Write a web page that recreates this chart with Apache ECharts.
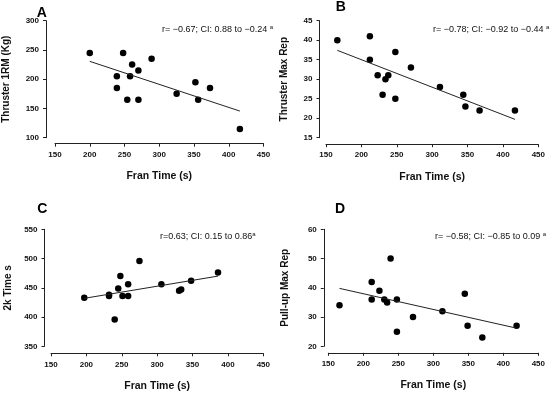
<!DOCTYPE html>
<html><head><meta charset="utf-8">
<script src="https://cdn.jsdelivr.net/npm/echarts@6/dist/echarts.min.js"></script>
<style>html,body{margin:0;padding:0;background:#fff}#c{width:550px;height:394px}</style>
</head><body><div id="c"></div>
<script>
// ---- Data ----
const xTicks = [150, 200, 250, 300, 350, 400, 450];

// Panel A: Fran time vs Thruster 1RM (Kg)
const franA = [200, 248, 261, 270, 289, 239, 258, 239, 254, 270, 325, 352, 356, 373, 416];
const thrusterRM = [245, 245, 225, 215, 235, 205, 205, 185, 165, 165, 175, 195, 165, 185, 115];
const fitAx = [200, 416];
const fitAy = [230.5, 145.5];

// Panel B: Fran time vs Thruster Max Rep
const franB = [166, 212, 212, 223, 230, 234, 238, 248, 248, 270, 311, 344, 347, 367, 417];
const thrusterMaxRep = [40, 41, 35, 31, 26, 30, 31, 37, 25, 33, 28, 26, 23, 22, 22];
const fitBx = [166, 417];
const fitBy = [37.4, 19.7];

// Panel C: Fran time vs 2k Time s
const franC = [197, 232, 232, 245, 248, 240, 251, 259, 259, 275, 306, 331, 334, 348, 386];
const rowTime = [433, 438, 436, 449, 470, 396, 436, 456, 436, 496, 456, 445, 447, 462, 476];
const fitCx = [197, 386];
const fitCy = [432, 470];

// Panel D: Fran time vs Pull-up Max Rep
const franD = [166, 212, 212, 223, 230, 234, 239, 248, 248, 271, 313, 345, 349, 370, 419];
const pullupMaxRep = [34, 42, 36, 39, 36, 35, 50, 36, 25, 30, 32, 38, 27, 23, 27];
const fitDx = [166, 419];
const fitDy = [39.8, 26.2];

const panelLetters = ['A', 'B', 'C', 'D'];
const yTitles = ['Thruster 1RM (Kg)', 'Thruster Max Rep', '2k Time s', 'Pull-up Max Rep'];
const xTitle = 'Fran Time (s)';
const yRanges = [[100, 300, 50], [15, 45, 5], [350, 550, 50], [20, 60, 10]];

// ---- Chart ----
const FONT = '"Liberation Sans", Arial, sans-serif';
const zip = (a, b) => a.map((v, i) => [v, b[i]]);

const grids = [
  {left: 52, top: 20.7, width: 211.5, height: 117},
  {left: 326, top: 20.7, width: 212.3, height: 117},
  {left: 51, top: 229.3, width: 212.3, height: 117},
  {left: 328.3, top: 229.3, width: 210, height: 117}
];
const yOffsets = [9, 6.5, 6.5, 4.5];
const xOffsets = [6, 6.5, 7, 6.5];
const yNameGaps = [35, 30, 31, 34];

const xAxes = grids.map((g, i) => ({
  gridIndex: i, type: 'value', min: xTicks[0], max: xTicks[xTicks.length - 1], interval: 50,
  offset: xOffsets[i],
  axisLine: {show: true, lineStyle: {color: '#222', width: 1}},
  axisTick: {show: true, length: 3, lineStyle: {color: '#222'}},
  axisLabel: {show: true, margin: 7, fontFamily: FONT, fontWeight: 'bold', fontSize: 8, color: '#111'},
  splitLine: {show: false},
  name: xTitle, nameLocation: 'middle', nameGap: 27,
  nameTextStyle: {fontFamily: FONT, fontWeight: 'bold', fontSize: 10.5, color: '#111'}
}));
const yAxes = grids.map((g, i) => ({
  gridIndex: i, type: 'value', min: yRanges[i][0], max: yRanges[i][1], interval: yRanges[i][2],
  offset: yOffsets[i],
  axisLine: {show: true, lineStyle: {color: '#222', width: 1}},
  axisTick: {show: true, length: 3, lineStyle: {color: '#222'}},
  axisLabel: {show: true, margin: 7, fontFamily: FONT, fontWeight: 'bold', fontSize: 8, color: '#111'},
  splitLine: {show: false},
  name: yTitles[i], nameLocation: 'middle', nameGap: yNameGaps[i], nameRotate: 90,
  nameTextStyle: {fontFamily: FONT, fontWeight: 'bold', fontSize: 10, color: '#111'}
}));

const pts = [zip(franA, thrusterRM), zip(franB, thrusterMaxRep), zip(franC, rowTime), zip(franD, pullupMaxRep)];
const fits = [zip(fitAx, fitAy), zip(fitBx, fitBy), zip(fitCx, fitCy), zip(fitDx, fitDy)];

const series = [];
pts.forEach((d, i) => {
  series.push({type: 'line', xAxisIndex: i, yAxisIndex: i, data: fits[i], symbol: 'none',
    lineStyle: {color: '#222', width: 1}, silent: true, animation: false});
  series.push({type: 'scatter', xAxisIndex: i, yAxisIndex: i, data: d, symbol: 'circle', symbolSize: 6.5,
    itemStyle: {color: '#000', opacity: 1}, animation: false});
});

const letterPos = [[41.7, 13.3], [340.7, 7.5], [42.3, 208.7], [340, 208.7]];
const annot = [
  {x: 162, y: 29.5, text: 'r= −0.67; CI: 0.88 to −0.24 {sup|a}'},
  {x: 433, y: 29.5, text: 'r= −0.78; CI: −0.92 to −0.44 {sup|a}'},
  {x: 160, y: 237, text: 'r=0.63; CI: 0.15 to 0.86{sup|a}'},
  {x: 435, y: 237, text: 'r= −0.58; CI: −0.85 to 0.09 {sup|a}'}
];
const graphics = [];
letterPos.forEach((p, i) => graphics.push({type: 'text', x: p[0], y: p[1],
  style: {text: panelLetters[i], font: 'bold 14px ' + FONT, fill: '#000', textAlign: 'center', textVerticalAlign: 'middle'}}));
annot.forEach(a => graphics.push({type: 'text', x: a.x, y: a.y,
  style: {text: a.text, font: '9px ' + FONT, fill: '#111', textAlign: 'left', textVerticalAlign: 'middle',
    rich: {sup: {fontSize: 6, fontFamily: FONT, verticalAlign: 'top', padding: [0, 0, 5, 0], fill: '#111'}}}}));

const chart = echarts.init(document.getElementById('c'), null, {renderer: 'canvas'});
chart.setOption({
  animation: false,
  backgroundColor: '#fff',
  grid: grids,
  xAxis: xAxes,
  yAxis: yAxes,
  series: series,
  graphic: graphics
});
</script>
</body></html>
